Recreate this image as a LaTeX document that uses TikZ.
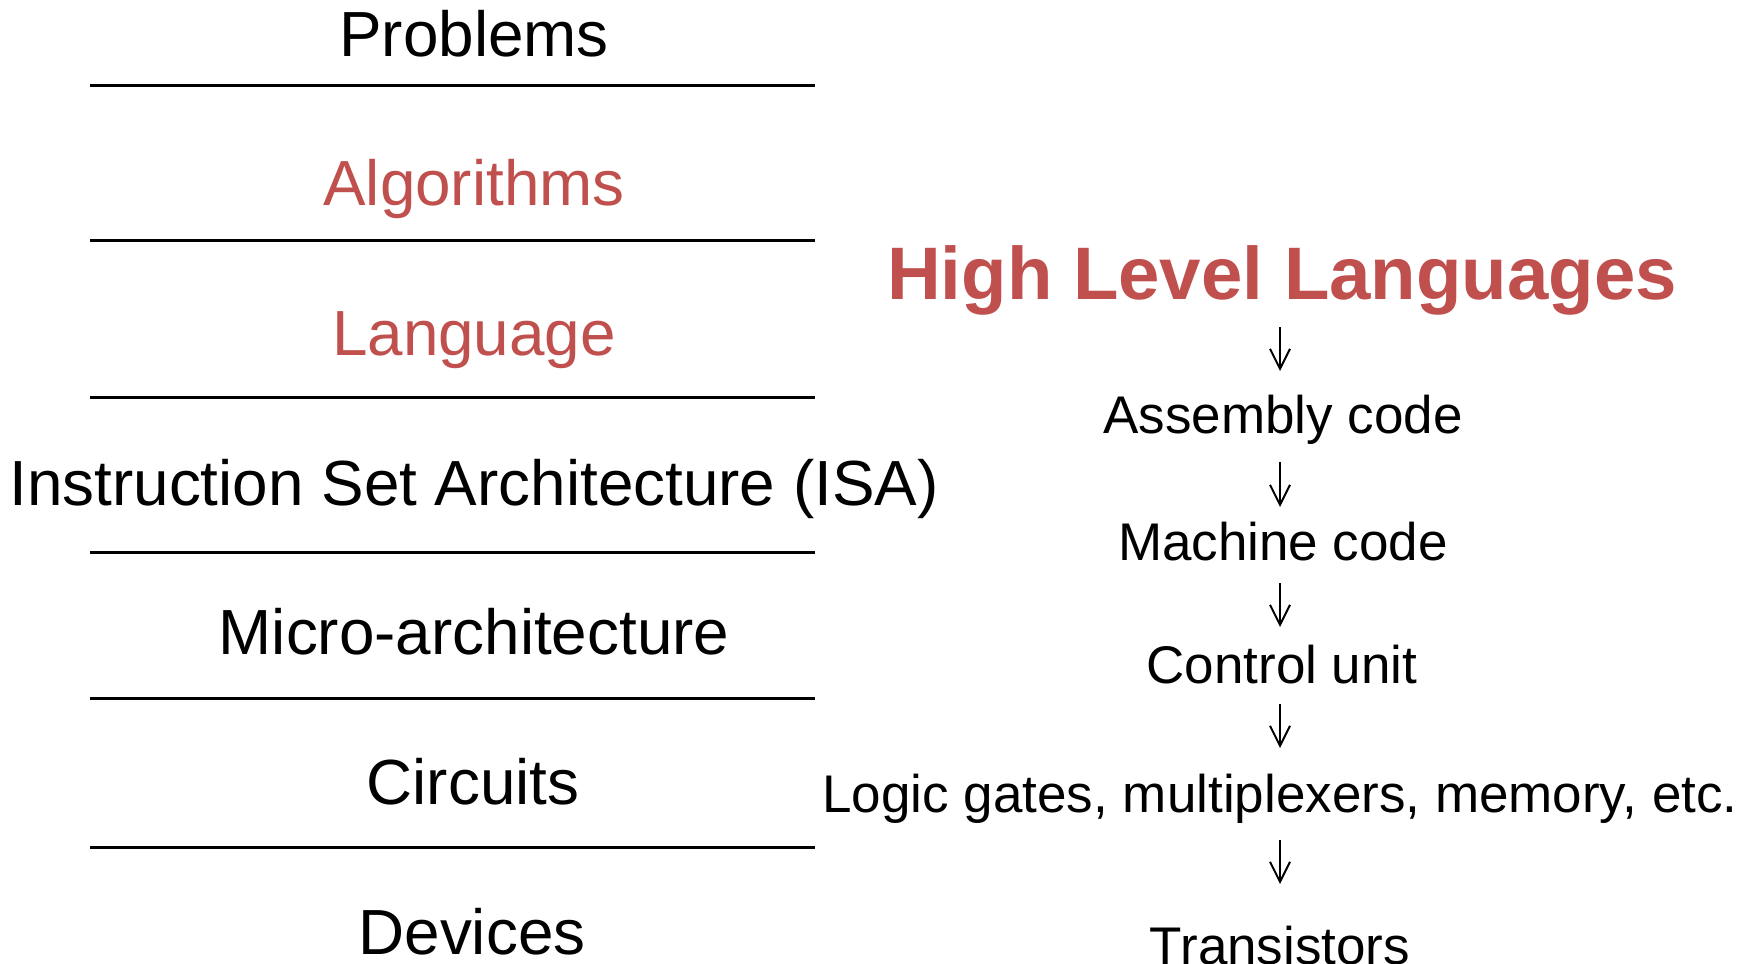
\documentclass[tikz,border=0pt]{standalone}
\usepackage{fontspec}
\setmainfont{Liberation Sans}
\usetikzlibrary{arrows.meta}
\definecolor{accent}{RGB}{192,80,77}
\begin{document}
\begin{tikzpicture}[x=1pt,y=-1pt,
  layer/.style={anchor=base, inner sep=0pt, font=\fontsize{63.8}{70}\selectfont},
  hot/.style={text=accent},
  stage/.style={anchor=base, inner sep=0pt, font=\fontsize{53}{60}\selectfont},
  headline/.style={anchor=base, inner sep=0pt, text=accent, font=\fontsize{74.4}{80}\selectfont\bfseries},
  sep/.style={line width=3pt},
  flow/.style={line width=2pt, -{Straight Barb[length=20pt,width=20pt]}}]
\useasboundingbox (0,0) rectangle (1754,964);

% abstraction layers (left column)
\node[layer]      (prob)  at (474,56)    {Problems};
\node[layer,hot]  (algo)  at (474,205.7) {Algorithms};
\node[layer,hot]  (lang)  at (474,355.3) {Language};
\node[layer]      (isa)   at (474,505)   {Instruction Set Architecture (ISA)};
\node[layer]      (micro) at (474,654.7) {Micro-architecture};
\node[layer]      (circ)  at (473,804.3) {Circuits};
\node[layer]      (dev)   at (472,954)   {Devices};

% separators between layers
\coordinate (l1) at (90,85);  \coordinate (r1) at (815,85);
\coordinate (l2) at (90,240); \coordinate (r2) at (815,240);
\coordinate (l3) at (90,397); \coordinate (r3) at (815,397);
\coordinate (l4) at (90,552); \coordinate (r4) at (815,552);
\coordinate (l5) at (90,698); \coordinate (r5) at (815,698);
\coordinate (l6) at (90,847); \coordinate (r6) at (815,847);
\foreach \i in {1,...,6} \draw[sep] (l\i) -- (r\i);

% translation chain (right column)
\node[headline] (hll)  at (1282,299) {High Level Languages};
\node[stage]    (asm)  at (1283,433) {Assembly code};
\node[stage]    (mach) at (1283,560) {Machine code};
\node[stage]    (cu)   at (1282,683) {Control unit};
\node[stage]    (gate) at (1280,812) {Logic gates, multiplexers, memory, etc.};
\node[stage]    (tran) at (1280,964) {Transistors};

\draw[flow] ([xshift=-2pt,yshift=-28pt]hll.base)  -- ([xshift=-3pt,yshift=62pt]asm.base);
\draw[flow] ([xshift=-3pt,yshift=-29pt]asm.base)  -- ([xshift=-3pt,yshift=53pt]mach.base);
\draw[flow] ([xshift=-3pt,yshift=-23pt]mach.base) -- ([xshift=-2pt,yshift=56pt]cu.base);
\draw[flow] ([xshift=-2pt,yshift=-21pt]cu.base)   -- ([xshift=0pt,yshift=64pt]gate.base);
\draw[flow] ([xshift=0pt,yshift=-28pt]gate.base)  -- ([xshift=0pt,yshift=80pt]tran.base);
\end{tikzpicture}
\end{document}
